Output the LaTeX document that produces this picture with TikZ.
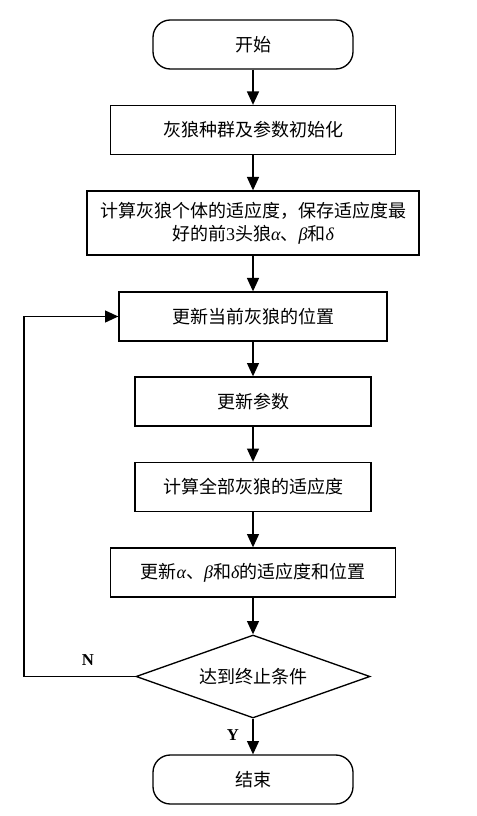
\documentclass[tikz,border=0pt]{standalone}
\usepackage{fontspec}
\setmainfont{Liberation Serif}
\newfontfamily\cjk{Noto Sans CJK SC}
\newcommand{\gk}[1]{{\rmfamily\itshape #1}}
\usetikzlibrary{shapes.geometric, arrows.meta, positioning}

\begin{document}
\begin{tikzpicture}[
    x=0.75pt, y=-0.75pt,
    terminal/.style={rectangle, rounded corners=13pt, draw, line width=1pt, minimum width=150pt, minimum height=36.75pt, font=\fontsize{13.5}{17}\selectfont\cjk, align=center},
    process/.style={rectangle, draw, line width=1pt, minimum height=36.75pt, inner sep=2pt, font=\fontsize{13.5}{17}\selectfont\cjk, align=center},
    decision/.style={diamond, draw, line width=1pt, aspect=2.82, minimum width=175.5pt, minimum height=62.25pt, inner sep=0pt, font=\fontsize{13.5}{17}\selectfont\cjk, align=center},
    arrow/.style={-{Triangle[width=9pt,length=10pt]}, line width=1pt},
    tag/.style={font=\fontsize{12.5}{15}\selectfont\bfseries}
]
\useasboundingbox (0,0) rectangle (476,816);

\node[terminal] (start) at (253,44.5) {开始};
\node[process, minimum width=213.75pt] (init) at (253,130) {灰狼种群及参数初始化};
\node[process, minimum width=249pt, minimum height=48pt] (fit) at (253,223) {计算灰狼个体的适应度，保存适应度最\\好的前\gk{\upshape 3}头狼\gk{α}、\gk{β}和\gk{δ}};
\node[process, minimum width=201pt] (upd) at (253,316.5) {更新当前灰狼的位置};
\node[process, minimum width=177pt] (param) at (253,401.5) {更新参数};
\node[process, minimum width=177pt] (calc) at (253,487) {计算全部灰狼的适应度};
\node[process, minimum width=213.75pt] (best) at (253,572.5) {更新\gk{α}、\gk{β}和\gk{δ}的适应度和位置};
\node[decision] (cond) at (253,676.5) {达到终止条件};
\node[terminal] (stop) at (253,779.5) {结束};

\coordinate (loop) at (24,676.5);
\node[tag] (no) at (88,660) {N};
\node[tag] (yes) at (233,735) {Y};

\draw[arrow] (start) -- (init);
\draw[arrow] (init) -- (fit);
\draw[arrow] (fit) -- (upd);
\draw[arrow] (upd) -- (param);
\draw[arrow] (param) -- (calc);
\draw[arrow] (calc) -- (best);
\draw[arrow] (best) -- (cond);
\draw[arrow] (cond) -- (stop);
\draw[arrow] (cond.west) -- (loop) |- (upd.west);

\end{tikzpicture}
\end{document}
